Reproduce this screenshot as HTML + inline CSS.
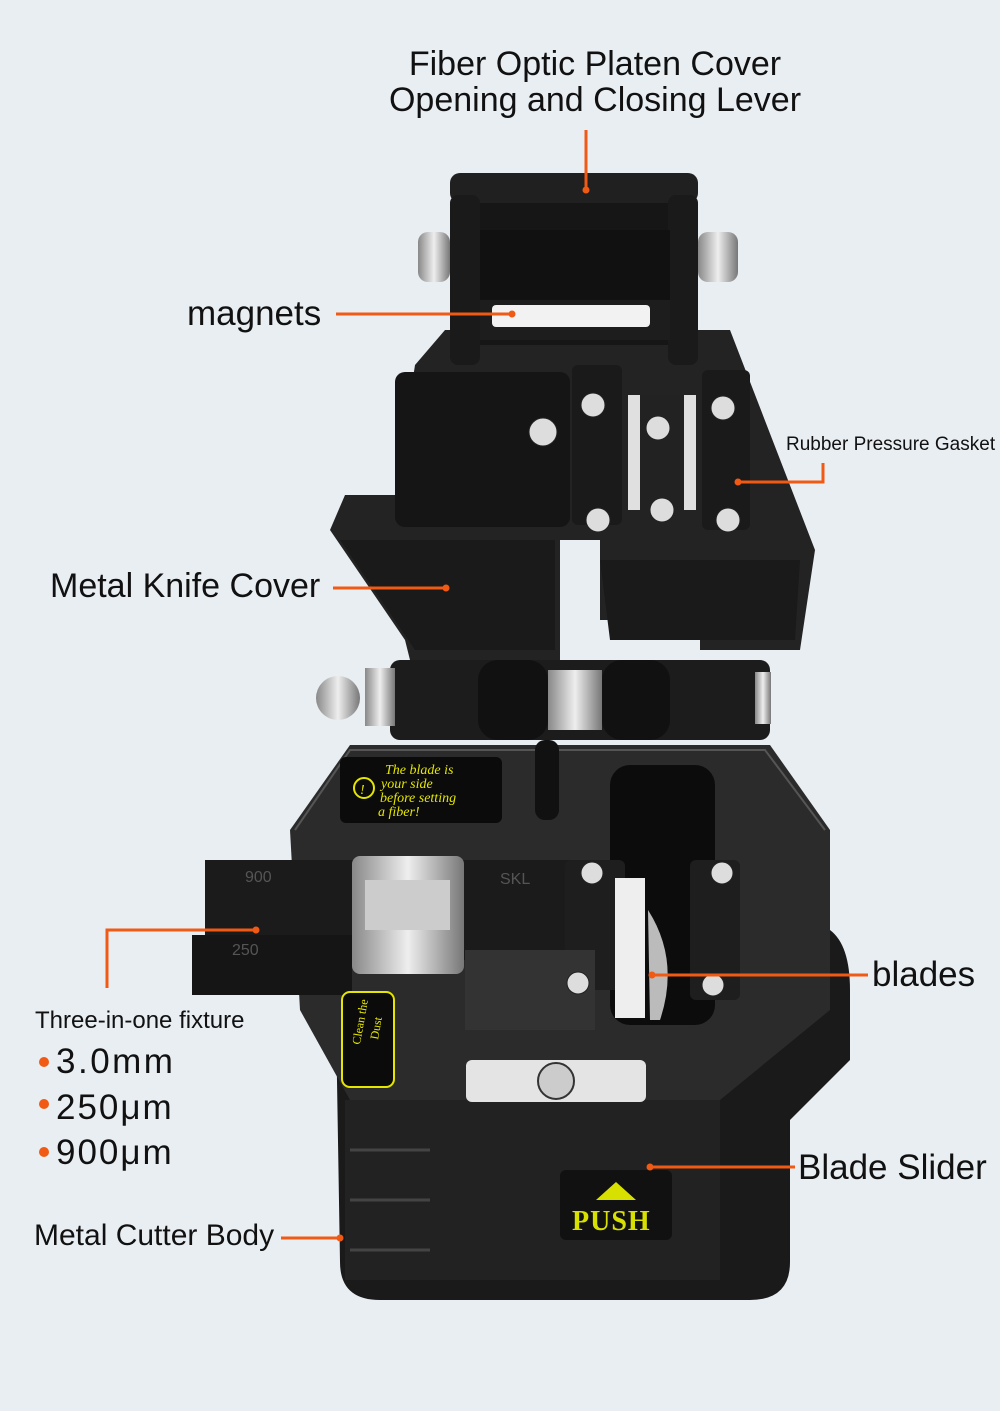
<!DOCTYPE html>
<html><head><meta charset="utf-8"><style>
html,body{margin:0;padding:0;background:#e9eef3;}
body{width:1000px;height:1411px;position:relative;overflow:hidden;font-family:"Liberation Sans",sans-serif;color:#111;}
.t{position:absolute;white-space:nowrap;}
</style></head><body>
<svg width="1000" height="1411" style="position:absolute;left:0;top:0">
<defs>
<linearGradient id="met" x1="0" x2="1"><stop offset="0" stop-color="#888"/><stop offset=".5" stop-color="#eee"/><stop offset="1" stop-color="#777"/></linearGradient>
</defs>
<!-- base body -->
<path d="M335 960 L830 930 Q850 945 850 990 L850 1060 L790 1120 L790 1262 Q790 1300 750 1300 L380 1300 Q340 1300 340 1262 Z" fill="#1a1a1a"/>
<path d="M345 1100 L720 1100 L720 1280 L345 1280 Z" fill="#222"/>
<line x1="350" y1="1150" x2="430" y2="1150" stroke="#444" stroke-width="3"/>
<line x1="350" y1="1200" x2="430" y2="1200" stroke="#444" stroke-width="3"/>
<line x1="350" y1="1250" x2="430" y2="1250" stroke="#444" stroke-width="3"/>
<!-- lower plate -->
<path d="M290 830 L350 745 L770 745 L830 830 L830 1010 L720 1100 L350 1100 L300 1010 Z" fill="#2b2b2b"/>
<path d="M295 830 L350 750 L765 750 L825 830" fill="none" stroke="#555" stroke-width="2"/>
<rect x="610" y="765" width="105" height="260" rx="20" fill="#0c0c0c"/>
<rect x="535" y="740" width="24" height="80" rx="10" fill="#111"/>
<rect x="340" y="757" width="162" height="66" rx="6" fill="#0b0b0b"/>
<circle cx="364" cy="788" r="10" fill="none" stroke="#e4e600" stroke-width="2"/>
<text x="360" y="794" fill="#e4e600" font-family="Liberation Serif" font-size="14" font-style="italic">!</text>
<text fill="#e4e600" font-family="Liberation Serif" font-size="14" font-style="italic"><tspan x="385" y="774">The blade is</tspan><tspan x="381" y="788">your side</tspan><tspan x="380" y="802">before setting</tspan><tspan x="378" y="816">a fiber!</tspan></text>
<rect x="205" y="860" width="370" height="100" fill="#1b1b1b"/>
<rect x="192" y="935" width="160" height="60" fill="#151515"/>
<text x="245" y="882" fill="#555" font-size="16">900</text>
<text x="232" y="955" fill="#555" font-size="16">250</text>
<text x="500" y="884" fill="#555" font-size="16">SKL</text>
<rect x="352" y="856" width="112" height="118" rx="8" fill="url(#met)"/>
<rect x="365" y="880" width="85" height="50" fill="#ccc"/>
<rect x="565" y="860" width="60" height="130" rx="6" fill="#1e1e1e"/>
<rect x="690" y="860" width="50" height="140" rx="6" fill="#1e1e1e"/>
<rect x="615" y="878" width="30" height="140" fill="#eee"/>
<path d="M648 910 Q680 960 660 1020 L650 1020 Z" fill="#bbb"/>
<rect x="465" y="950" width="130" height="80" fill="#333"/>
<g fill="#ddd" stroke="#222"><circle cx="592" cy="873" r="11"/><circle cx="722" cy="873" r="11"/><circle cx="578" cy="983" r="11"/><circle cx="713" cy="985" r="11"/></g>
<rect x="342" y="992" width="52" height="95" rx="8" fill="#0b0b0b" stroke="#e4e600" stroke-width="2"/>
<text transform="translate(360,1045) rotate(-80)" fill="#e4e600" font-family="Liberation Serif" font-size="12">Clean the</text>
<text transform="translate(378,1040) rotate(-80)" fill="#e4e600" font-family="Liberation Serif" font-size="12">Dust</text>
<rect x="466" y="1060" width="180" height="42" rx="6" fill="#e4e4e4"/>
<circle cx="556" cy="1081" r="18" fill="#ccc" stroke="#333" stroke-width="2"/>
<rect x="545" y="1150" width="135" height="95" fill="#222"/>
<rect x="560" y="1170" width="112" height="70" rx="6" fill="#111"/>
<polygon points="596,1200 616,1182 636,1200" fill="#d8e000"/>
<text x="572" y="1230" fill="#d8e000" font-family="Liberation Serif" font-weight="bold" font-size="28" letter-spacing="1">PUSH</text>
<!-- hinge -->
<rect x="390" y="660" width="380" height="80" rx="10" fill="#1c1c1c"/>
<rect x="478" y="660" width="70" height="80" rx="20" fill="#111"/>
<rect x="602" y="660" width="68" height="80" rx="20" fill="#111"/>
<rect x="548" y="670" width="54" height="60" fill="url(#met)"/>
<rect x="365" y="668" width="30" height="58" fill="url(#met)"/>
<circle cx="338" cy="698" r="22" fill="url(#met)"/>
<rect x="755" y="672" width="16" height="52" fill="url(#met)"/>
<!-- upper body -->
<path d="M330 530 L345 495 L395 495 L415 365 L445 330 L730 330 L815 550 L800 650 L700 650 L700 620 L600 620 L600 540 L560 540 L560 660 L410 660 L405 640 Z" fill="#232323"/>
<path d="M340 540 L555 540 L555 650 L415 650 Z" fill="#1a1a1a"/>
<path d="M600 560 L800 560 L795 640 L610 640 Z" fill="#1a1a1a"/>
<rect x="395" y="372" width="175" height="155" rx="10" fill="#151515"/>
<rect x="572" y="365" width="50" height="160" rx="6" fill="#1a1a1a"/>
<rect x="702" y="370" width="48" height="160" rx="6" fill="#1a1a1a"/>
<rect x="628" y="395" width="68" height="115" fill="#e0e0e0"/>
<rect x="640" y="395" width="44" height="115" fill="#222"/>
<g fill="#ddd" stroke="#222"><circle cx="543" cy="432" r="14"/><circle cx="593" cy="405" r="12"/><circle cx="658" cy="428" r="12"/><circle cx="723" cy="408" r="12"/><circle cx="598" cy="520" r="12"/><circle cx="662" cy="510" r="12"/><circle cx="728" cy="520" r="12"/></g>
<!-- lever -->
<rect x="470" y="195" width="210" height="150" fill="#161616"/>
<rect x="450" y="173" width="248" height="30" rx="10" fill="#202020"/>
<rect x="450" y="195" width="30" height="170" rx="8" fill="#1a1a1a"/>
<rect x="668" y="195" width="30" height="170" rx="8" fill="#1a1a1a"/>
<rect x="480" y="230" width="190" height="70" fill="#111"/>
<rect x="480" y="300" width="190" height="40" fill="#1d1d1d"/>
<rect x="492" y="305" width="158" height="22" rx="4" fill="#f2f2f2"/>
<rect x="418" y="232" width="32" height="50" rx="10" fill="url(#met)"/>
<rect x="698" y="232" width="40" height="50" rx="10" fill="url(#met)"/>
<g stroke="#f05a14" stroke-width="3" fill="none">
<line x1="586" y1="130" x2="586" y2="190"/>
<line x1="336" y1="314" x2="512" y2="314"/>
<polyline points="738,482 823,482 823,463"/>
<line x1="333" y1="588" x2="446" y2="588"/>
<polyline points="107,988 107,930 256,930"/>
<line x1="652" y1="975" x2="868" y2="975"/>
<line x1="650" y1="1167" x2="795" y2="1167"/>
<line x1="281" y1="1238" x2="340" y2="1238"/>
</g>
<g fill="#f05a14"><circle cx="586" cy="190" r="3.5"/><circle cx="512" cy="314" r="3.5"/><circle cx="738" cy="482" r="3.5"/><circle cx="446" cy="588" r="3.5"/><circle cx="256" cy="930" r="3.5"/><circle cx="652" cy="975" r="3.5"/><circle cx="650" cy="1167" r="3.5"/><circle cx="340" cy="1238" r="3.5"/>
<circle cx="44" cy="1062" r="5"/><circle cx="44" cy="1104" r="5"/><circle cx="44" cy="1152" r="5"/></g>
</svg>
<div class="t" style="left:0;width:1190px;text-align:center;top:46px;font-size:34px;line-height:36px;">Fiber Optic Platen Cover<br>Opening and Closing Lever</div>
<div class="t" style="left:187px;top:294px;font-size:35px;">magnets</div>
<div class="t" style="left:786px;top:434px;font-size:19px;">Rubber Pressure Gasket</div>
<div class="t" style="left:50px;top:567px;font-size:34px;">Metal Knife Cover</div>
<div class="t" style="left:872px;top:955px;font-size:35px;">blades</div>
<div class="t" style="left:35px;top:1007px;font-size:24px;">Three-in-one fixture</div>
<div class="t" style="left:56px;top:1042px;font-size:35px;letter-spacing:2.5px;">3.0mm</div>
<div class="t" style="left:56px;top:1088px;font-size:35px;letter-spacing:2px;">250μm</div>
<div class="t" style="left:56px;top:1133px;font-size:35px;letter-spacing:2px;">900μm</div>
<div class="t" style="left:798px;top:1148px;font-size:35px;">Blade Slider</div>
<div class="t" style="left:34px;top:1219px;font-size:30px;">Metal Cutter Body</div>
</body></html>
